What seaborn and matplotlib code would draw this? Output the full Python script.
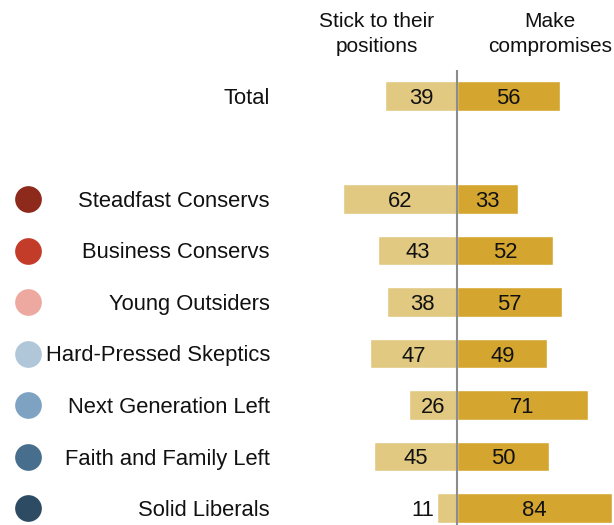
import matplotlib
matplotlib.use("Agg")
import matplotlib.pyplot as plt
import seaborn as sns
import pandas as pd

groups = ["Total", "Steadfast Conservs", "Business Conservs", "Young Outsiders",
          "Hard-Pressed Skeptics", "Next Generation Left", "Faith and Family Left",
          "Solid Liberals"]
stick = [39, 62, 43, 38, 47, 26, 45, 11]
compromise = [56, 33, 52, 57, 49, 71, 50, 84]
dot_colors = [None, "#8E2A1C", "#C33B29", "#EDA9A0", "#B0C6D9", "#7EA3C2",
              "#476E8C", "#2D4B62"]
headers = ["Stick to their\npositions", "Make\ncompromises"]

light = "#E2C982"
dark = "#D4A52F"

sns.set_theme(style="white")
plt.rcParams["font.family"] = ["Liberation Sans", "DejaVu Sans"]

df = pd.DataFrame({"group": groups, "stick": [-v for v in stick],
                   "compromise": compromise})
order = ["Total", "spacer"] + groups[1:]

fig = plt.figure(figsize=(6.14, 5.25), dpi=100)
ax = fig.add_axes([0, 0, 1, 1])

sns.barplot(data=df, y="group", x="stick", order=order, color=light,
            width=0.57, saturation=1, orient="h", ax=ax)
sns.barplot(data=df, y="group", x="compromise", order=order, color=dark,
            width=0.57, saturation=1, orient="h", ax=ax)

px = 1.845  # pixels per percentage point
ax.set_xlim(-457 / px, 157 / px)
ax.set_ylim((525 - 96) / 51.5, -96 / 51.5)
ax.axis("off")

fs = 15.8
ink = "#111111"
for g, s, c, col in zip(groups, stick, compromise, dot_colors):
    y = order.index(g)
    if s >= 15:
        ax.text(-s / 2, y, str(s), ha="center", va="center_baseline",
                fontsize=fs, color=ink)
    else:
        ax.text(-s - 1.2, y, str(s), ha="right", va="center_baseline",
                fontsize=fs, color=ink)
    ax.text(c / 2, y, str(c), ha="center", va="center_baseline", fontsize=fs,
            color=ink)
    ax.text((270 - 457) / px, y, g, ha="right", va="center_baseline",
            fontsize=fs, color=ink)
    if col is not None:
        ax.scatter([(28 - 457) / px], [y], s=370, color=col, zorder=3,
                   linewidths=0)

# center divider
ax.plot([0, 0], [(70 - 96) / 51.5, (525 - 96) / 51.5], color="#8C8C8C",
        lw=1.5, zorder=4, solid_capstyle="butt")

ax.text((377 - 457) / px, (34 - 96) / 51.5, headers[0], ha="center",
        va="center", fontsize=15, color=ink, linespacing=1.45)
ax.text((550 - 457) / px, (34 - 96) / 51.5, headers[1], ha="center",
        va="center", fontsize=15, color=ink, linespacing=1.45)

fig.savefig("out.png", dpi=100)
